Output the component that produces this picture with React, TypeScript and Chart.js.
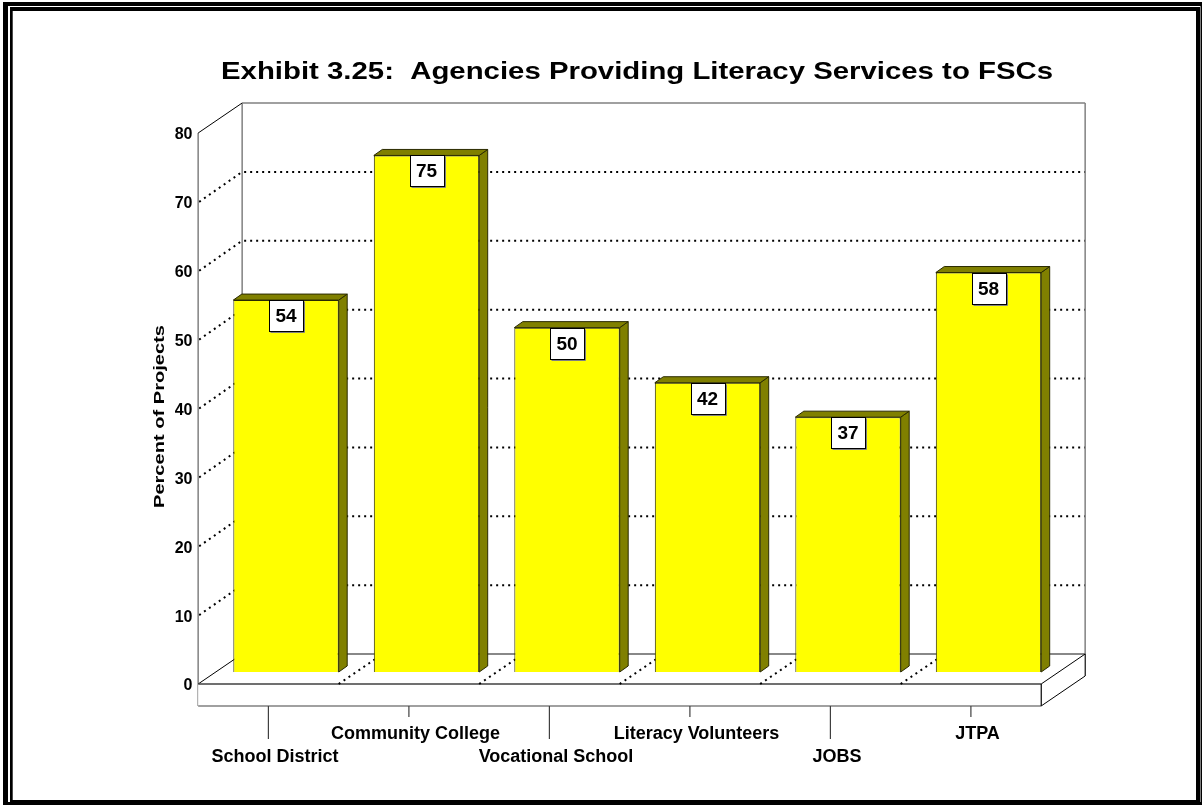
import React, { useEffect, useRef } from "react";
import { Chart, registerables } from "chart.js";

Chart.register(...registerables);

const TITLE = "Exhibit 3.25:  Agencies Providing Literacy Services to FSCs";
const Y_TITLE = "Percent of Projects";
const CATEGORIES = [
  "School District",
  "Community College",
  "Vocational School",
  "Literacy Volunteers",
  "JOBS",
  "JTPA",
];
const VALUES = [54, 75, 50, 42, 37, 58];
const Y_MIN = 0;
const Y_MAX = 80;
const Y_STEP = 10;

const FONT = "'Liberation Sans', Arial, Helvetica, sans-serif";

// 3D geometry (pixels) relative to the bar plane (chart area)
const FRONT_DX = -17.6;
const FRONT_DY = 12;
const BACK_DX = 26.4;
const BACK_DY = -18;
const FLOOR_T = 22;
const BAR_DX = 8.5;
const BAR_DY = -6;

const line = (ctx: CanvasRenderingContext2D, x1: number, y1: number, x2: number, y2: number) => {
  ctx.beginPath();
  ctx.moveTo(x1, y1);
  ctx.lineTo(x2, y2);
  ctx.stroke();
};

const poly = (ctx: CanvasRenderingContext2D, pts: number[][], fill: string, stroke: string, lw = 1) => {
  ctx.beginPath();
  ctx.moveTo(pts[0][0], pts[0][1]);
  for (let i = 1; i < pts.length; i++) ctx.lineTo(pts[i][0], pts[i][1]);
  ctx.closePath();
  if (fill) {
    ctx.fillStyle = fill;
    ctx.fill();
  }
  if (stroke) {
    ctx.strokeStyle = stroke;
    ctx.lineWidth = lw;
    ctx.stroke();
  }
};

const scenePlugin = {
  id: "scene3d",
  beforeDraw(chart: any) {
    const ctx: CanvasRenderingContext2D = chart.ctx;
    const W = chart.width;
    const H = chart.height;
    ctx.save();
    ctx.fillStyle = "#ffffff";
    ctx.fillRect(0, 0, W, H);
    ctx.fillStyle = "#000000";
    // outer frame band
    ctx.fillRect(3, 2, W - 3, 4);
    ctx.fillRect(3, 2, 5, H - 2);
    ctx.fillRect(W - 1.5, 2, 1.5, H - 2);
    ctx.fillRect(3, H - 3, W - 3, 3);
    // inner frame band
    ctx.fillRect(10, 7, W - 16, 4);
    ctx.fillRect(10, 7, 2.7, H - 10);
    ctx.fillRect(W - 6, 7, 4, H - 10);
    ctx.fillRect(10, H - 5, W - 16, 3);

    // title
    ctx.fillStyle = "#000000";
    ctx.font = `bold 24px ${FONT}`;
    ctx.textAlign = "center";
    ctx.textBaseline = "alphabetic";
    const tw = ctx.measureText(TITLE).width;
    ctx.translate(637, 79);
    ctx.scale(832 / tw, 1);
    ctx.fillText(TITLE, 0, 0);
    ctx.restore();

    // y-axis title
    ctx.save();
    ctx.fillStyle = "#000000";
    ctx.font = `bold 15px ${FONT}`;
    ctx.textAlign = "center";
    ctx.textBaseline = "alphabetic";
    const yw = ctx.measureText(Y_TITLE).width;
    ctx.translate(163.5, 416.5);
    ctx.rotate(-Math.PI / 2);
    ctx.scale(183 / yw, 1);
    ctx.fillText(Y_TITLE, 0, 0);
    ctx.restore();
  },
  beforeDatasetsDraw(chart: any) {
    const ctx: CanvasRenderingContext2D = chart.ctx;
    const { left, right } = chart.chartArea;
    const ys = chart.scales.y;
    const xs = chart.scales.x;
    const yAt = (v: number) => ys.getPixelForValue(v);
    const fl = left + FRONT_DX;
    const fr = right + FRONT_DX;
    const bl = left + BACK_DX;
    const br = right + BACK_DX;
    const y0f = yAt(Y_MIN) + FRONT_DY;
    const y0b = yAt(Y_MIN) + BACK_DY;
    const ytf = yAt(Y_MAX) + FRONT_DY;
    const ytb = yAt(Y_MAX) + BACK_DY;

    ctx.save();
    // dotted gridlines
    ctx.strokeStyle = "#000000";
    ctx.lineWidth = 2;
    ctx.setLineDash([2, 4]);
    for (let v = Y_MIN + Y_STEP; v < Y_MAX; v += Y_STEP) {
      const yf = yAt(v) + FRONT_DY;
      const yb = yAt(v) + BACK_DY;
      line(ctx, bl + 2, yb, br, yb);
      line(ctx, fl + 1, yf, bl, yb);
    }
    ctx.setLineDash([]);

    // back wall outline
    ctx.strokeStyle = "#808080";
    ctx.lineWidth = 1.5;
    line(ctx, bl, ytb, br, ytb);
    line(ctx, bl, ytb, bl, y0b);
    line(ctx, br, ytb, br, y0b + FLOOR_T);
    // left wall
    line(ctx, fl, ytf, fl, y0f + FLOOR_T);
    ctx.strokeStyle = "#000000";
    ctx.lineWidth = 1;
    line(ctx, fl, ytf, bl, ytb);

    // floor top
    poly(ctx, [[fl, y0f], [fr, y0f], [br, y0b], [bl, y0b]], "#ffffff", "");
    ctx.strokeStyle = "#606060";
    ctx.lineWidth = 1.5;
    line(ctx, bl, y0b, br, y0b);
    ctx.strokeStyle = "#000000";
    ctx.lineWidth = 1;
    line(ctx, fl, y0f, bl, y0b);
    // floor right side
    poly(ctx, [[fr, y0f], [br, y0b], [br, y0b + FLOOR_T], [fr, y0f + FLOOR_T]], "#ffffff", "#000000", 1);
    // floor front face
    ctx.fillStyle = "#ffffff";
    ctx.fillRect(fl, y0f, fr - fl, FLOOR_T);
    ctx.strokeStyle = "#404040";
    ctx.lineWidth = 1.5;
    line(ctx, fl, y0f, fr, y0f);
    ctx.strokeStyle = "#808080";
    line(ctx, fl, y0f + FLOOR_T, fr, y0f + FLOOR_T);
    ctx.strokeStyle = "#000000";
    ctx.lineWidth = 1;
    line(ctx, fr, y0f, fr, y0f + FLOOR_T);

    // floor dotted category separators
    ctx.lineWidth = 2;
    ctx.setLineDash([2, 4]);
    const n = CATEGORIES.length;
    for (let k = 1; k < n; k++) {
      const xb = (xs.getPixelForValue(k - 1) + xs.getPixelForValue(k)) / 2;
      line(ctx, xb + FRONT_DX, y0f, xb + BACK_DX, y0b);
    }
    ctx.setLineDash([]);

    // category tick marks below the floor
    ctx.strokeStyle = "#404040";
    ctx.lineWidth = 1.2;
    for (let i = 0; i < n; i++) {
      const xc = xs.getPixelForValue(i) + FRONT_DX;
      const len = i % 2 === 0 ? 33 : 11;
      line(ctx, xc, y0f + FLOOR_T, xc, y0f + FLOOR_T + len);
    }
    ctx.restore();
  },
  afterDatasetsDraw(chart: any) {
    const ctx: CanvasRenderingContext2D = chart.ctx;
    const meta = chart.getDatasetMeta(0);
    ctx.save();
    meta.data.forEach((bar: any, i: number) => {
      const { x, y, base, width } = bar.getProps(["x", "y", "base", "width"], true);
      const l = x - width / 2;
      const r = x + width / 2;
      // side
      poly(ctx, [[r, y], [r + BAR_DX, y + BAR_DY], [r + BAR_DX, base + BAR_DY], [r, base]], "#808000", "#2a2a00", 1);
      // top
      poly(ctx, [[l, y], [l + BAR_DX, y + BAR_DY], [r + BAR_DX, y + BAR_DY], [r, y]], "#808000", "#2a2a00", 1);
      // value label box
      const bw = 34;
      const bh = 31;
      const bx = Math.round(x - bw / 2) + 0.5;
      const by = Math.round(y) + 0.5;
      ctx.fillStyle = "#ffffff";
      ctx.fillRect(bx, by, bw, bh);
      ctx.strokeStyle = "#808080";
      ctx.lineWidth = 1;
      line(ctx, bx + bw + 1, by + 1, bx + bw + 1, by + bh + 1);
      line(ctx, bx + 1, by + bh + 1, bx + bw + 1, by + bh + 1);
      ctx.strokeStyle = "#000000";
      ctx.strokeRect(bx, by, bw, bh);
      ctx.fillStyle = "#000000";
      ctx.font = `bold 19px ${FONT}`;
      ctx.textAlign = "center";
      ctx.textBaseline = "middle";
      ctx.fillText(String(VALUES[i]), x, by + bh / 2 + 1);
    });
    ctx.restore();
  },
};

export default function App() {
  const canvasRef = useRef<HTMLCanvasElement | null>(null);

  useEffect(() => {
    document.body.style.margin = "0";
    document.body.style.overflow = "hidden";
    const canvas = canvasRef.current;
    if (!canvas) return;
    const chart = new Chart(canvas, {
      type: "bar",
      data: {
        labels: CATEGORIES,
        datasets: [
          {
            data: VALUES,
            backgroundColor: "#ffff00",
            borderColor: "#2a2a00",
            borderWidth: 1,
            barPercentage: 0.75,
            categoryPercentage: 1,
          },
        ],
      },
      options: {
        responsive: false,
        animation: false,
        devicePixelRatio: 1,
        events: [],
        layout: { padding: { top: 121, right: 143.25, bottom: 0, left: 0 } },
        plugins: {
          legend: { display: false },
          tooltip: { enabled: false },
          title: { display: false },
        },
        scales: {
          x: {
            grid: { display: false, drawTicks: false },
            border: { display: false },
            afterFit: (scale: any) => {
              scale.height = 133;
            },
            ticks: {
              autoSkip: false,
              minRotation: 0,
              maxRotation: 0,
              padding: 51,
              labelOffset: -11,
              color: "#000000",
              font: { family: FONT, size: 18, weight: "bold", lineHeight: "23px" },
              callback: (_v: any, i: number) => (i % 2 === 0 ? ["", CATEGORIES[i]] : [CATEGORIES[i]]),
            },
          },
          y: {
            min: Y_MIN,
            max: Y_MAX,
            grid: { display: false, drawTicks: false },
            border: { display: false },
            afterFit: (scale: any) => {
              scale.width = 215.75;
            },
            ticks: {
              stepSize: Y_STEP,
              padding: 23.25,
              labelOffset: 14,
              color: "#000000",
              font: { family: FONT, size: 16, weight: "bold" },
            },
          },
        },
      },
      plugins: [scenePlugin],
    });
    return () => chart.destroy();
  }, []);

  return (
    <div style={{ width: 1202, height: 805 }}>
      <canvas ref={canvasRef} width={1202} height={805} style={{ display: "block" }} />
    </div>
  );
}
